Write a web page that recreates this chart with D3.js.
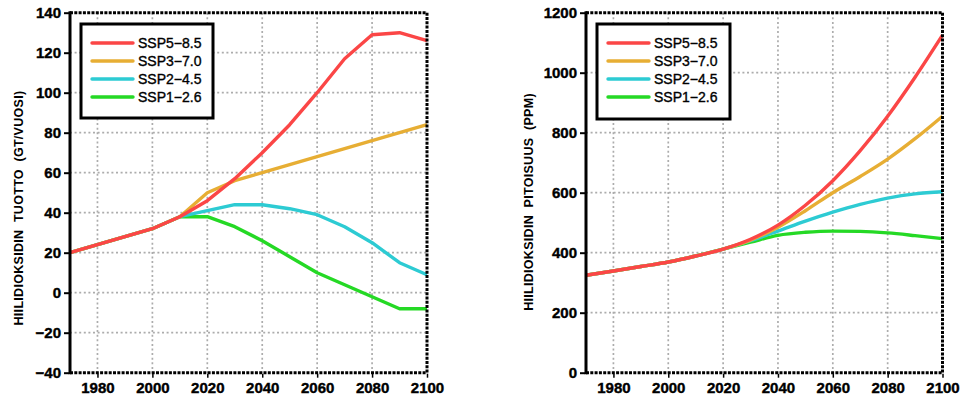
<!DOCTYPE html>
<html><head><meta charset="utf-8">
<script src="https://cdn.jsdelivr.net/npm/d3@7"></script>
<style>
body{margin:0;background:#fff;}
svg{display:block;font-family:"Liberation Sans",Arial,sans-serif;}
</style></head>
<body>
<svg id="chart" width="963" height="399"></svg>
<script>
// ---- data ----
const scenarios = ["SSP1-2.6","SSP2-4.5","SSP3-7.0","SSP5-8.5"];
const legendOrder = ["SSP5-8.5","SSP3-7.0","SSP2-4.5","SSP1-2.6"];
const legendLabels = ["SSP5\u22128.5","SSP3\u22127.0","SSP2\u22124.5","SSP1\u22122.6"];
const colors = {"SSP5-8.5":"#fb4646","SSP3-7.0":"#e7ae34","SSP2-4.5":"#2dcbd3","SSP1-2.6":"#25d925"};

const xTicks = [1980,2000,2020,2040,2060,2080,2100];

// Left panel: CO2 emissions (Gt/yr)
const emisHistYears = [1970,1980,1990,2000,2005,2010];
const emisHist = [20,24,28,32,35,38];
const emisYears = [2010,2020,2030,2040,2050,2060,2070,2080,2090,2100];
const emisSSP585 = [38,46,57,70,84,100,117,129,130,126];
const emisSSP370 = [38,50,56,60,64,68,72,76,80,84];
const emisSSP245 = [38,41,44,44,42,39,33,25,15,9];
const emisSSP126 = [38,38,33,26,18,10,4,-2,-8,-8];
const emisYTicks = [-40,-20,0,20,40,60,80,100,120,140];

// Right panel: CO2 concentration (ppm)
const concHistYears = [1970,1980,1990,2000,2010,2020];
const concHist = [325,339,354,369,389,412];
const concYears = [2020,2030,2040,2050,2060,2070,2080,2090,2100];
const concSSP585 = [412,445,492,558,640,740,855,985,1125];
const concSSP370 = [412,442,485,540,600,654,712,780,855];
const concSSP245 = [412,440,472,505,535,561,582,596,603];
const concSSP126 = [412,435,458,468,472,471,466,457,447];
const concYTicks = [0,200,400,600,800,1000,1200];

function build(histY, hist, years, series){
  const out = {};
  scenarios.forEach(s=>{
    const pts = histY.map((y,i)=>({x:y,y:hist[i]})).filter(p=>p.x<years[0]);
    years.forEach((y,i)=>pts.push({x:y,y:series[s][i]}));
    out[s]=pts;
  });
  return out;
}
const emisData = build(emisHistYears, emisHist, emisYears,
  {"SSP5-8.5":emisSSP585,"SSP3-7.0":emisSSP370,"SSP2-4.5":emisSSP245,"SSP1-2.6":emisSSP126});
const concData = build(concHistYears, concHist, concYears,
  {"SSP5-8.5":concSSP585,"SSP3-7.0":concSSP370,"SSP2-4.5":concSSP245,"SSP1-2.6":concSSP126});

const svg = d3.select("#chart");

function panel(opt){
  const g = svg.append("g");
  const x = d3.scaleLinear().domain([1970,2100]).range([opt.x0,opt.x1]);
  const y = d3.scaleLinear().domain(opt.yDomain).range([opt.y1,opt.y0]);

  // grid
  g.append("g").selectAll("line").data(xTicks.filter(t=>t<2100)).join("line")
    .attr("x1",d=>x(d)).attr("x2",d=>x(d)).attr("y1",opt.y0).attr("y2",opt.y1)
    .attr("stroke","#acacac").attr("stroke-width",1.7).attr("stroke-dasharray","2,2.6");
  g.append("g").selectAll("line").data(opt.yTicks.filter((t,i)=>i>0 && i<opt.yTicks.length-1)).join("line")
    .attr("x1",opt.x0).attr("x2",opt.x1).attr("y1",d=>y(d)).attr("y2",d=>y(d))
    .attr("stroke","#acacac").attr("stroke-width",1.7).attr("stroke-dasharray","2,2.6");

  // lines
  const line = d3.line().x(d=>x(d.x)).y(d=>y(d.y)).curve(opt.curve);
  scenarios.forEach(s=>{
    g.append("path").datum(opt.data[s]).attr("d",line)
      .attr("fill","none").attr("stroke",colors[s]).attr("stroke-width",3.4)
      .attr("stroke-linejoin","round").attr("stroke-linecap","butt");
  });

  // frame: top, right, bottom dotted; left solid
  const dotted = {stroke:"#000","stroke-width":3,"stroke-dasharray":"3,1.3"};
  [[opt.x0,opt.y0,opt.x1,opt.y0],[opt.x1,opt.y0,opt.x1,opt.y1],[opt.x0,opt.y1,opt.x1,opt.y1]].forEach(c=>{
    const l = g.append("line").attr("x1",c[0]).attr("y1",c[1]).attr("x2",c[2]).attr("y2",c[3]);
    Object.entries(dotted).forEach(([k,v])=>l.attr(k,v));
  });
  g.append("line").attr("x1",opt.x0).attr("x2",opt.x0).attr("y1",opt.y0-1.5).attr("y2",opt.y1+1.5)
    .attr("stroke","#000").attr("stroke-width",3);

  // axes (ticks + labels)
  const ya = d3.axisLeft(y).tickValues(opt.yTicks).tickSize(5).tickPadding(3).tickFormat(d=>d<0?"\u2212"+Math.abs(d):d);
  const yg = g.append("g").attr("transform",`translate(${opt.x0-1},0)`).call(ya);
  yg.select(".domain").remove();
  yg.selectAll("line").attr("stroke","#000").attr("stroke-width",2);
  yg.selectAll("text").attr("font-size",15).attr("font-weight","bold").attr("fill","#000")
    .attr("stroke","#000").attr("stroke-width",0.4)
    .attr("font-family","'Liberation Sans',Arial,sans-serif");

  const xa = d3.axisBottom(x).tickValues(xTicks).tickSize(4).tickPadding(5).tickFormat(d3.format("d"));
  const xg = g.append("g").attr("transform",`translate(0,${opt.y1+1})`).call(xa);
  xg.select(".domain").remove();
  xg.selectAll("line").attr("stroke","#000").attr("stroke-width",1.5);
  xg.selectAll("text").attr("font-size",15).attr("font-weight","bold").attr("fill","#000")
    .attr("stroke","#000").attr("stroke-width",0.4)
    .attr("font-family","'Liberation Sans',Arial,sans-serif");

  // y label
  g.append("text").attr("transform",`translate(${opt.labelX},${opt.labelY}) rotate(-90)`)
    .attr("text-anchor","middle").attr("dominant-baseline","central")
    .attr("font-size",12.5).attr("font-weight","bold").attr("letter-spacing",0.3)
    .attr("xml:space","preserve")
    .text(opt.label);

  // legend
  const lg = g.append("g");
  lg.append("rect").attr("x",opt.lx).attr("y",opt.ly).attr("width",opt.lw).attr("height",opt.lh)
    .attr("fill","#fff").attr("stroke","#000").attr("stroke-width",3);
  legendOrder.forEach((s,i)=>{
    const yy = opt.ly+19+i*18;
    lg.append("line").attr("x1",opt.lx+11).attr("x2",opt.lx+52).attr("y1",yy).attr("y2",yy)
      .attr("stroke",colors[s]).attr("stroke-width",3.4).attr("stroke-linecap","round");
    lg.append("text").attr("x",opt.lx+57).attr("y",yy).attr("dominant-baseline","central")
      .attr("font-size",14).attr("fill","#000").attr("stroke","#000").attr("stroke-width",0.35)
      .text(legendLabels[i]);
  });
}

panel({x0:70,x1:427,y0:12.7,y1:372.7,yDomain:[-40,140],yTicks:emisYTicks,data:emisData,
  curve:d3.curveLinear,label:"HIILIDIOKSIDIN  TUOTTO  (GT/VUOSI)",labelX:19,labelY:208,
  lx:81,ly:24,lw:132,lh:94});
panel({x0:586,x1:942.5,y0:12.7,y1:372.7,yDomain:[0,1200],yTicks:concYTicks,data:concData,
  curve:d3.curveMonotoneX,label:"HIILIDIOKSIDIN  PITOISUUS  (PPM)",labelX:529,labelY:202,
  lx:597,ly:24,lw:133,lh:95});
</script>
</body></html>
